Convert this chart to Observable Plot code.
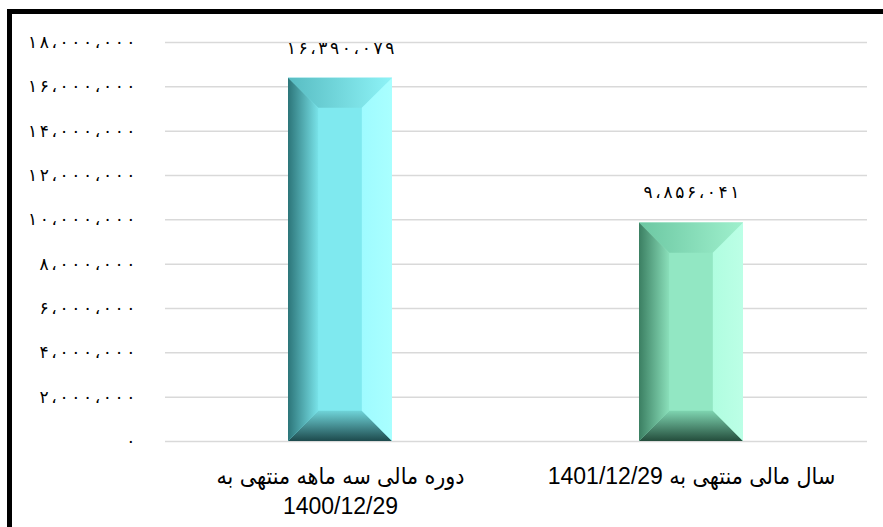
<!DOCTYPE html>
<html>
<head>
<meta charset="utf-8">
<script src="https://cdn.jsdelivr.net/npm/d3@7"></script>
<script src="https://cdn.jsdelivr.net/npm/@observablehq/plot@0.6"></script>
<style>
  html, body { margin: 0; padding: 0; background: #fff; overflow: hidden; width: 883px; height: 527px; }
  #frame { position: absolute; left: 7px; top: 9px; width: 900px; height: 540px; border: 5px solid #000; box-sizing: border-box; }
  #chart { position: absolute; left: 0; top: 0; }
  .xax text { direction: rtl; font-family: 'Liberation Sans', 'DejaVu Sans Condensed', sans-serif; }
</style>
</head>
<body>
<div id="frame"></div>
<div id="chart"></div>
<script>
const categories = ["دوره مالی سه ماهه منتهی به\n1400/12/29", "سال مالی منتهی به 1401/12/29"];
const values = [16390079, 9856041];
const valueLabels = ["۱۶،۳۹۰،۰۷۹", "۹،۸۵۶،۰۴۱"];
const yTicks = [0, 2000000, 4000000, 6000000, 8000000, 10000000, 12000000, 14000000, 16000000, 18000000];
const yTickLabels = ["۰", "۲،۰۰۰،۰۰۰", "۴،۰۰۰،۰۰۰", "۶،۰۰۰،۰۰۰", "۸،۰۰۰،۰۰۰", "۱۰،۰۰۰،۰۰۰", "۱۲،۰۰۰،۰۰۰", "۱۴،۰۰۰،۰۰۰", "۱۶،۰۰۰،۰۰۰", "۱۸،۰۰۰،۰۰۰"];
const barColors = ["cyan", "green"];

const data = categories.map((c, i) => ({category: c, value: values[i], label: valueLabels[i], color: barColors[i]}));

const palettes = {
  cyan:  {face: "#7fe9ef", top0: "#58bcc2", top1: "#8ef3f7", left0: "#2c7579", left1: "#78e2e8", right0: "#9ffbff", right1: "#a9ffff", bot0: "#6fd3d8", bot1: "#1d4a4d"},
  green: {face: "#92e7c3", top0: "#6cc7a2", top1: "#9ff0cd", left0: "#3b7f62", left1: "#8adfba", right0: "#b0fde0", right1: "#bcffe6", bot0: "#7ed4b0", bot1: "#244d3c"}
};

function bevel(index, scales, vals, dimensions, context, next) {
  const g = next(index, scales, vals, dimensions, context);
  const defs = d3.create("svg:defs");
  for (const [k, p] of Object.entries(palettes)) {
    const mk = (id, x2, y2, c0, c1) => {
      const lg = defs.append("linearGradient").attr("id", `${k}-${id}`).attr("x1", 0).attr("y1", 0).attr("x2", x2).attr("y2", y2);
      lg.append("stop").attr("offset", 0).attr("stop-color", c0);
      lg.append("stop").attr("offset", 1).attr("stop-color", c1);
    };
    mk("top", 1, 0, p.top0, p.top1);
    mk("left", 1, 0, p.left0, p.left1);
    mk("right", 1, 0, p.right0, p.right1);
    mk("bot", 0, 1, p.bot0, p.bot1);
  }
  g.insertBefore(defs.node(), g.firstChild);
  const rects = Array.from(g.querySelectorAll("rect"));
  rects.forEach((r, j) => {
    const i = index[j];
    const k = data[i].color;
    const p = palettes[k];
    const x = +r.getAttribute("x"), y = +r.getAttribute("y"), w = +r.getAttribute("width"), h = +r.getAttribute("height");
    r.setAttribute("fill", p.face);
    const b = Math.min(w * 0.29, h / 2);
    const poly = (pts, fill) => {
      const el = document.createElementNS("http://www.w3.org/2000/svg", "polygon");
      el.setAttribute("points", pts.map(q => q.join(",")).join(" "));
      el.setAttribute("fill", fill);
      g.appendChild(el);
    };
    poly([[x, y], [x + w, y], [x + w - b, y + b], [x + b, y + b]], `url(#${k}-top)`);
    poly([[x, y + h], [x + w, y + h], [x + w - b, y + h - b], [x + b, y + h - b]], `url(#${k}-bot)`);
    poly([[x, y], [x + b, y + b], [x + b, y + h - b], [x, y + h]], `url(#${k}-left)`);
    poly([[x + w, y], [x + w - b, y + b], [x + w - b, y + h - b], [x + w, y + h]], `url(#${k}-right)`);
  });
  return g;
}

const chart = Plot.plot({
  width: 883,
  height: 527,
  marginLeft: 165,
  marginRight: 16,
  marginTop: 42,
  marginBottom: 86,
  style: {fontFamily: "'Liberation Sans', Arial, 'DejaVu Sans', sans-serif", background: "transparent", color: "#000"},
  x: {domain: categories, paddingInner: 0.703, paddingOuter: 0.3515, label: null},
  y: {domain: [0, 18000000], label: null},
  marks: [
    Plot.gridY(yTicks, {stroke: "#d9d9d9", strokeOpacity: 1, strokeWidth: 1.5}),
    Plot.axisY(yTicks, {tickSize: 0, tickPadding: 30, fontSize: 17, label: null, className: "fanum", tickFormat: (d) => yTickLabels[yTicks.indexOf(d)], fill: "#000", fontFamily: "'DejaVu Sans', sans-serif"}),
    Plot.axisX({tickSize: 0, tickPadding: 21, fontSize: 23, lineHeight: 1.3, label: null, fill: "#000", className: "xax"}),
    Plot.barY(data, {x: "category", y: "value", render: bevel}),
    Plot.text(data, {x: "category", y: "value", text: "label", dy: -30, fontSize: 17, fill: "#000", className: "fanum", fontVariant: "tabular-nums", fontFamily: "'DejaVu Sans', sans-serif"})
  ]
});
document.getElementById("chart").appendChild(chart);
// widen the spacing of the Persian numerals, as the reference font sets them wider
chart.querySelectorAll(".fanum text").forEach((t) => {
  const L = t.getComputedTextLength();
  if (t.textContent.length > 1) {
    t.setAttribute("textLength", (L * 1.28).toFixed(1));
    t.setAttribute("lengthAdjust", "spacing");
  }
});
</script>
</body>
</html>
